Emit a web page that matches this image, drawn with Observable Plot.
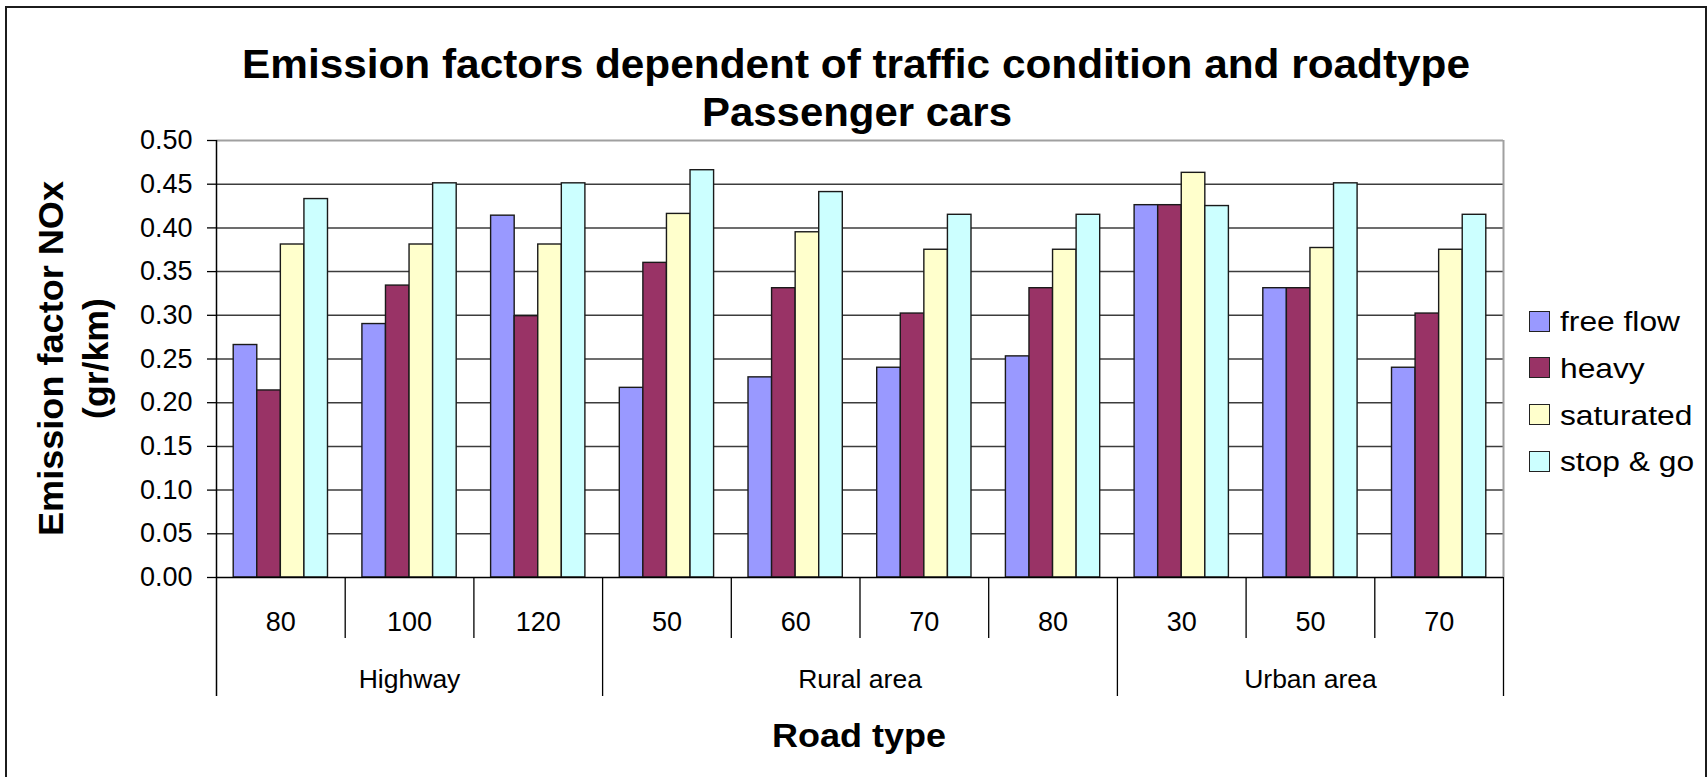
<!DOCTYPE html>
<html><head><meta charset="utf-8">
<script src="https://cdn.jsdelivr.net/npm/d3@7"></script>
<script src="https://cdn.jsdelivr.net/npm/@observablehq/plot@0.6"></script>
<style>
html,body{margin:0;padding:0;background:#fff;}
#wrap{position:relative;width:1707px;height:777px;overflow:hidden;font-family:"Liberation Sans",Arial,sans-serif;color:#000;background:#fff;}
#frame{position:absolute;left:5px;top:6px;width:1702px;height:900px;border:2px solid #1c1c1c;box-sizing:border-box;pointer-events:none;}
.t{position:absolute;white-space:nowrap;line-height:1;}
.sw{position:absolute;width:21px;height:21px;border:1.5px solid #222;box-sizing:border-box;}
svg{position:absolute;left:0;top:0;}
</style></head>
<body><div id="wrap"><div id="frame"></div></div>
<script>
// ---------- data ----------
const speeds = ["80", "100", "120", "50", "60", "70", "80", "30", "50", "70"];
const roadTypes = ["Highway", "Rural area", "Urban area"];
const roadTypeCounts = [3, 4, 3];
const seriesNames = ["free flow", "heavy", "saturated", "stop & go"];
const seriesColors = ["#9999FF", "#993366", "#FFFFCC", "#CCFFFF"];
const freeFlow  = [0.266, 0.290, 0.414, 0.217, 0.229, 0.240, 0.253, 0.426, 0.331, 0.240];
const heavy     = [0.214, 0.334, 0.299, 0.360, 0.331, 0.302, 0.331, 0.426, 0.331, 0.302];
const saturated = [0.381, 0.381, 0.381, 0.416, 0.395, 0.375, 0.375, 0.463, 0.377, 0.375];
const stopAndGo = [0.433, 0.451, 0.451, 0.466, 0.441, 0.415, 0.415, 0.425, 0.451, 0.415];
const yTicks = [0, 0.05, 0.10, 0.15, 0.20, 0.25, 0.30, 0.35, 0.40, 0.45, 0.50];

// ---------- derived tables ----------
const seriesValues = [freeFlow, heavy, saturated, stopAndGo];
const nS = seriesNames.length;
const gapWidth = 1.46;                 // Excel-style gap width (fraction of a bar)
const bw = 1 / (nS + gapWidth);        // bar width in category units
const rows = speeds.flatMap((sp, i) => seriesNames.map((s, j) => ({
  i, series: s, value: seriesValues[j][i],
  x1: i + 0.5 + (j - nS / 2) * bw, x2: i + 0.5 + (j - nS / 2 + 1) * bw
})));
const cats = speeds.map((sp, i) => ({x: i + 0.5, label: sp}));
let acc = 0;
const groupBounds = [0];
const groups = roadTypes.map((g, k) => {
  const start = acc; acc += roadTypeCounts[k]; groupBounds.push(acc);
  return {x: (start + acc) / 2, label: g};
});
const innerBounds = d3.range(1, speeds.length).filter(b => !groupBounds.includes(b));

// ---------- layout ----------
const W = 1707, H = 777, mL = 216, mR = 204, mT = 140, mB = 200;
const yMax = 0.5;
const unitsPerPx = yMax / (H - mT - mB);
const subDepth = 61 * unitsPerPx, groupDepth = 119 * unitsPerPx;
const FONT = '"Liberation Sans", Arial, sans-serif';

const chart = Plot.plot({
  width: W, height: H,
  marginLeft: mL, marginRight: mR, marginTop: mT, marginBottom: mB,
  x: {type: "linear", domain: [0, speeds.length], axis: null},
  y: {domain: [0, yMax], axis: null},
  color: {domain: seriesNames, range: seriesColors},
  style: {fontFamily: FONT, background: "transparent", overflow: "visible", color: "#000"},
  marks: [
    Plot.ruleY(yTicks.filter(t => t > 0 && t < yMax), {y: d => d, stroke: "#3c3c3c", strokeWidth: 1.5}),
    Plot.ruleY([yMax], {y: d => d, stroke: "#a0a0a0", strokeWidth: 2}),
    Plot.ruleX([speeds.length], {x: d => d, y1: 0, y2: yMax, stroke: "#a0a0a0", strokeWidth: 2}),
    Plot.rectY(rows, {x1: "x1", x2: "x2", y1: 0, y2: "value", fill: "series", stroke: "#1a1a1a", strokeWidth: 1.4}),
    Plot.ruleY([0], {y: d => d, stroke: "#000", strokeWidth: 1.5}),
    Plot.ruleX([0], {x: d => d, y1: -groupDepth, y2: yMax, stroke: "#000", strokeWidth: 1.5}),
    Plot.ruleX(innerBounds, {x: d => d, y1: 0, y2: -subDepth, stroke: "#000", strokeWidth: 1.3}),
    Plot.ruleX(groupBounds.slice(1), {x: d => d, y1: 0, y2: -groupDepth, stroke: "#000", strokeWidth: 1.3}),
    Plot.axisY({ticks: yTicks, tickFormat: d3.format(".2f"), tickSize: 9, tickPadding: 15, fontSize: 27, strokeWidth: 1.3, label: null}),
    Plot.text(cats, {x: "x", y: 0, text: "label", dy: 45, fontSize: 27, lineAnchor: "middle", fill: "#000"}),
    Plot.text(groups, {x: "x", y: 0, text: "label", dy: 102, fontSize: 26.5, lineAnchor: "middle", fill: "#000"})
  ]
});
const wrap = document.getElementById("wrap");
wrap.insertBefore(chart, wrap.firstChild);

// ---------- text overlays ----------
function make(text, fs, bold) {
  const el = document.createElement("div");
  el.className = "t"; el.textContent = text;
  el.style.fontSize = fs + "px";
  el.style.fontWeight = bold ? "bold" : "normal";
  wrap.appendChild(el);
  return [el, el.getBoundingClientRect().width];
}
function place(text, o) {
  const [el, w] = make(text, o.fs, o.bold);
  const k = o.k || (o.target ? o.target / w : 1);
  el.style.top = (o.baseline - 0.8465 * o.fs) + "px";
  el.style.left = (o.anchor === "start" ? o.x : o.x - w * k / 2) + "px";
  el.style.transformOrigin = "0 0";
  el.style.transform = `scaleX(${k})`;
  return k;
}
function placeV(text, o) {
  const [el, w] = make(text, o.fs, o.bold);
  const k = o.target ? o.target / w : 1;
  el.style.left = (o.baselineX - 0.8465 * o.fs) + "px";
  el.style.top = (o.centerY + w * k / 2) + "px";
  el.style.transformOrigin = "0 0";
  el.style.transform = `rotate(-90deg) scaleX(${k})`;
}
place("Emission factors dependent of traffic condition and roadtype", {x: 856, baseline: 78, fs: 40, bold: true, target: 1228});
place("Passenger cars", {x: 857, baseline: 126, fs: 40, bold: true, target: 310});
place("Road type", {x: 859, baseline: 747, fs: 33.5, bold: true, target: 174});
placeV("Emission factor NOx", {baselineX: 63, centerY: 358, fs: 34.5, bold: true, target: 355});
placeV("(gr/km)", {baselineX: 108, centerY: 358, fs: 34.5, bold: true, target: 121});

// legend
let kLeg = null;
seriesNames.forEach((s, r) => {
  const sw = document.createElement("div");
  sw.className = "sw";
  sw.style.left = "1529px";
  sw.style.top = (310.5 + r * 46.7) + "px";
  sw.style.background = seriesColors[r];
  wrap.appendChild(sw);
  const k = place(s, {x: 1559.5, baseline: 331.5 + r * 46.7, fs: 27.5, anchor: "start", k: kLeg, target: r === 0 ? 120 : null});
  if (r === 0) kLeg = k;
});
</script>
</body></html>
